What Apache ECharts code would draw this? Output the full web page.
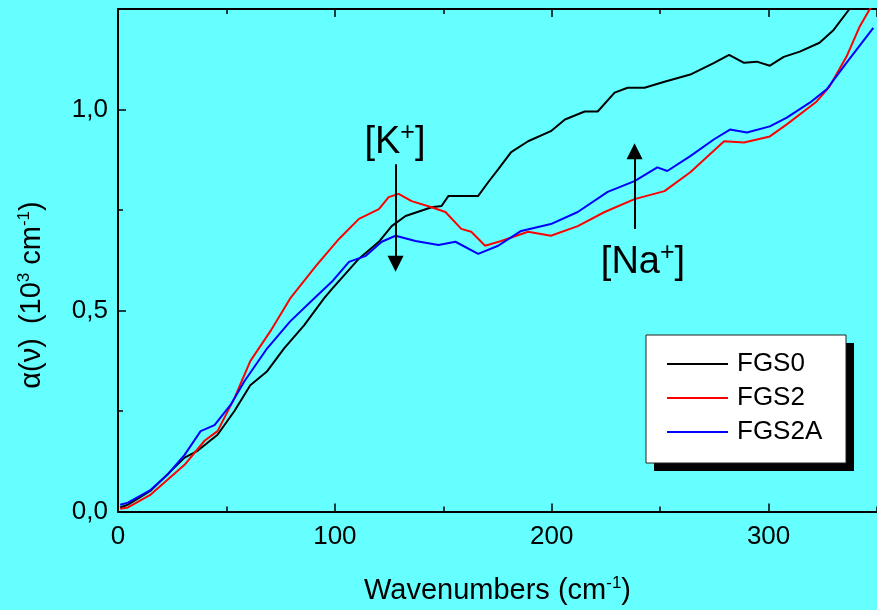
<!DOCTYPE html>
<html><head><meta charset="utf-8">
<script src="https://cdn.jsdelivr.net/npm/echarts@6/dist/echarts.min.js"></script>
<style>html,body{margin:0;padding:0;background:#66ffff}#c{width:877px;height:610px}</style>
</head><body><div id="c"></div>
<script>
const FONT = '"Liberation Sans", Arial, sans-serif';
const seriesNames = ['FGS0', 'FGS2', 'FGS2A'];
const seriesColors = ['#000000', '#ff0000', '#0000ff'];

// FGS0 (black)
const fgs0X = [1, 4.6, 15.1, 30.7, 36.7, 45.9, 53.7, 61.0, 68.8, 76.6, 85.8, 95.0, 98.7, 111.1, 120.3, 126.2, 132.6, 144.6, 149.2, 152.4, 166.1, 170.7, 175.3, 181.3, 189.1, 199.6, 206.1, 215.2, 221.2, 229.0, 235.0, 242.8, 252.0, 263.9, 274.9, 281.8, 288.7, 294.6, 300.6, 307.0, 314.4, 323.5, 330.0, 337.3, 341];
const fgs0Y = [0.010, 0.017, 0.052, 0.134, 0.151, 0.191, 0.250, 0.314, 0.349, 0.406, 0.463, 0.530, 0.554, 0.629, 0.671, 0.710, 0.735, 0.757, 0.760, 0.785, 0.785, 0.819, 0.851, 0.894, 0.921, 0.946, 0.975, 0.995, 0.995, 1.042, 1.054, 1.054, 1.069, 1.087, 1.116, 1.136, 1.116, 1.119, 1.109, 1.131, 1.144, 1.166, 1.198, 1.250, 1.29];

// FGS2 (red)
const fgs2X = [1, 4.6, 15.1, 30.7, 39.9, 45.9, 53.7, 61.0, 70.2, 79.4, 91.3, 101.9, 111.1, 120.3, 124.8, 129.4, 135.4, 144.6, 151.0, 158.3, 162.9, 169.3, 176.7, 189.1, 199.6, 212.0, 224.4, 238.2, 252.0, 263.9, 279.5, 288.7, 300.6, 308.4, 322.2, 328.1, 335.9, 341.9, 346.5, 349];
const fgs2Y = [0.007, 0.010, 0.042, 0.116, 0.176, 0.200, 0.282, 0.374, 0.448, 0.530, 0.611, 0.678, 0.728, 0.752, 0.782, 0.790, 0.772, 0.757, 0.745, 0.703, 0.696, 0.661, 0.673, 0.696, 0.686, 0.710, 0.745, 0.777, 0.797, 0.844, 0.921, 0.918, 0.933, 0.963, 1.020, 1.057, 1.131, 1.205, 1.248, 1.275];

// FGS2A (blue)
const fgs2aX = [1, 4.6, 15.1, 22.9, 30.7, 38.1, 44.5, 51.9, 58.3, 68.8, 79.4, 90.4, 98.7, 106.5, 114.3, 121.6, 128.0, 137.2, 147.8, 155.6, 166.1, 175.3, 185.9, 199.6, 212.0, 225.8, 238.2, 248.7, 253.3, 263.9, 274.9, 282.2, 290.0, 300.6, 308.4, 319.0, 326.8, 335.9, 348.3];
const fgs2aY = [0.017, 0.022, 0.054, 0.092, 0.141, 0.200, 0.215, 0.265, 0.324, 0.406, 0.473, 0.530, 0.572, 0.621, 0.636, 0.671, 0.686, 0.673, 0.663, 0.671, 0.641, 0.661, 0.698, 0.715, 0.745, 0.795, 0.822, 0.856, 0.847, 0.884, 0.926, 0.950, 0.943, 0.958, 0.980, 1.017, 1.050, 1.116, 1.203];

// axis ranges
const xRange = [0, 350];
const yRange = [0, 1.25];
const xMajor = 100, xMinor = 50, yMajor = 0.5, yMinor = 0.25;

// annotation arrows (data coords)
const kArrow = [[128, 0.864], [128, 0.616]];
const naArrow = [[238.2, 0.703], [238.2, 0.896]];

function pairs(xs, ys) { return xs.map((x, i) => [x, ys[i]]); }
const allX = [fgs0X, fgs2X, fgs2aX];
const allY = [fgs0Y, fgs2Y, fgs2aY];

const chart = echarts.init(document.getElementById('c'), null, { renderer: 'canvas' });

const richTitle = {
  m: { fontSize: 29, fontFamily: FONT, color: '#000', lineHeight: 32 },
  g: { fontSize: 29, fontFamily: FONT, color: '#000', lineHeight: 32, padding: [0, 14, 0, 0] },
  s: { fontSize: 17, fontFamily: FONT, color: '#000', lineHeight: 12, verticalAlign: 'top' },
  t: { fontSize: 17, fontFamily: FONT, color: '#000', lineHeight: 12, verticalAlign: 'top', padding: [0, 8, 0, 0] }
};
const richAnn = {
  m: { fontSize: 38, fontFamily: FONT, color: '#000', lineHeight: 44 },
  s: { fontSize: 25, fontFamily: FONT, color: '#000', lineHeight: 20, verticalAlign: 'top' }
};

const axLine = { show: true, lineStyle: { color: '#000', width: 2 } };
function xAx(pos, interval, len, labels, line) {
  return {
    type: 'value', position: pos, min: xRange[0], max: xRange[1], interval: interval,
    axisLine: line ? axLine : { show: false },
    axisTick: { show: true, inside: true, length: len, lineStyle: { color: '#000', width: 1.5 } },
    axisLabel: labels ? { show: true, fontSize: 26, fontFamily: FONT, color: '#000', margin: 12, showMaxLabel: false } : { show: false },
    splitLine: { show: false }
  };
}
function yAx(pos, interval, len, labels, line) {
  return {
    type: 'value', position: pos, min: yRange[0], max: yRange[1], interval: interval,
    axisLine: line ? axLine : { show: false },
    axisTick: { show: true, inside: true, length: len, lineStyle: { color: '#000', width: 1.5 } },
    axisLabel: labels ? { show: true, fontSize: 26, fontFamily: FONT, color: '#000', margin: 10, showMaxLabel: false,
      formatter: v => v.toFixed(1).replace('.', ',') } : { show: false },
    splitLine: { show: false }
  };
}

const xMain = xAx('bottom', xMajor, 8, true, true);
xMain.name = '{m|Wavenumbers (cm}{s|-1}{m|)}';
xMain.nameLocation = 'middle';
xMain.nameGap = 63;
xMain.nameTextStyle = { rich: richTitle };

const option = {
  backgroundColor: '#66ffff',
  animation: false,
  grid: { left: 118, top: 9, width: 763, height: 505, containLabel: false },
  xAxis: [xMain, xAx('bottom', xMinor, 5, false, false), xAx('top', xMajor, 8, false, true), xAx('top', xMinor, 5, false, false)],
  yAxis: [yAx('left', yMajor, 8, true, true), yAx('left', yMinor, 5, false, false)],
  legend: {
    data: seriesNames, orient: 'vertical', left: 667, top: 351, icon: 'rect', padding: 0,
    itemWidth: 61, itemHeight: 2, itemGap: 8, selectedMode: false, z: 20,
    textStyle: { fontSize: 26, fontFamily: FONT, color: '#000', lineHeight: 26, padding: [0, 0, 0, 4] }
  },
  graphic: [
    { type: 'rect', z: 5, shape: { x: 654, y: 343, width: 200, height: 128 }, style: { fill: '#000' } },
    { type: 'rect', z: 6, shape: { x: 646, y: 335, width: 200, height: 128 }, style: { fill: '#fff', stroke: '#222', lineWidth: 1 } },
    { type: 'text', z: 6, x: 32, y: 295, rotation: Math.PI / 2,
      style: { text: '{g|α(ν)}{m|(10}{t|3}{m|cm}{s|-1}{m|)}', rich: richTitle, align: 'center', verticalAlign: 'middle' } },
    { type: 'text', z: 6, x: 395, y: 143,
      style: { text: '{m|[K}{s|+}{m|]}', rich: richAnn, align: 'center', verticalAlign: 'middle' } },
    { type: 'text', z: 6, x: 643, y: 263,
      style: { text: '{m|[Na}{s|+}{m|]}', rich: richAnn, align: 'center', verticalAlign: 'middle' } }
  ],
  series: seriesNames.map((name, i) => {
    const s = {
      name: name, type: 'line', xAxisIndex: 0, yAxisIndex: 0,
      data: pairs(allX[i], allY[i]), symbol: 'none', smooth: false,
      lineStyle: { color: seriesColors[i], width: 2 }, itemStyle: { color: seriesColors[i] },
      clip: true
    };
    if (i === 0) {
      s.markLine = {
        silent: true, symbol: ['none', 'triangle'], symbolSize: 16,
        label: { show: false },
        lineStyle: { color: '#000', width: 2, type: 'solid' },
        data: [
          [{ coord: kArrow[0] }, { coord: kArrow[1] }],
          [{ coord: naArrow[0] }, { coord: naArrow[1] }]
        ]
      };
    }
    return s;
  })
};
chart.setOption(option);
</script>
</body></html>
